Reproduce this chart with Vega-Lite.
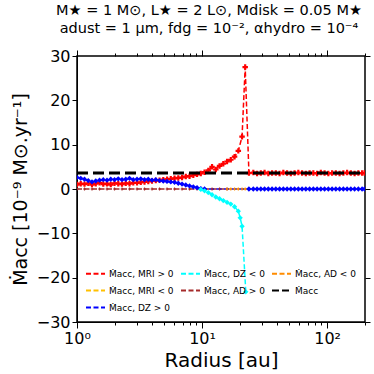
{
  "$schema": "https://vega.github.io/schema/vega-lite/v6.json",
  "autosize": {"type": "none"},
  "width": 288,
  "height": 266,
  "padding": {"left": 77, "top": 56, "right": 9, "bottom": 52},
  "background": "white",
  "title": {
    "text": ["M★ = 1 M⊙, L★ = 2 L⊙, Mdisk = 0.05 M★", "adust = 1 μm, fdg = 10⁻², αhydro = 10⁻⁴"],
    "fontSize": 14.5, "font": "DejaVu Sans", "fontWeight": "normal", "offset": 12, "lineHeight": 18, "anchor": "middle", "frame": "group", "dx": -12, "color": "black"
  },
  "config": {
    "font": "DejaVu Sans",
    "view": {"stroke": "black", "strokeWidth": 1.5},
    "axis": {"domainColor": "black", "tickColor": "black", "labelColor": "black", "titleColor": "black", "grid": false, "labelFont": "DejaVu Sans", "titleFont": "DejaVu Sans", "titleFontWeight": "normal"},
    "legend": {"labelFont": "DejaVu Sans", "labelColor": "black"}
  },
  "data": {"values": [
    {"r": 1, "v": 1.0, "s": "g"},
    {"r": 1.0715, "v": 1.2, "s": "g"},
    {"r": 1.1482, "v": 1.1, "s": "g"},
    {"r": 1.2303, "v": 1.3, "s": "g"},
    {"r": 1.3183, "v": 1.0, "s": "g"},
    {"r": 1.4125, "v": 1.2, "s": "g"},
    {"r": 1.5136, "v": 1.4, "s": "g"},
    {"r": 1.6218, "v": 1.1, "s": "g"},
    {"r": 1.7378, "v": 1.2, "s": "g"},
    {"r": 1.8621, "v": 1.0, "s": "g"},
    {"r": 1.9953, "v": 1.3, "s": "g"},
    {"r": 2.138, "v": 1.2, "s": "g"},
    {"r": 2.2909, "v": 1.1, "s": "g"},
    {"r": 2.4547, "v": 1.3, "s": "g"},
    {"r": 2.6303, "v": 1.2, "s": "g"},
    {"r": 2.8184, "v": 1.4, "s": "g"},
    {"r": 3.02, "v": 1.4, "s": "g"},
    {"r": 3.2359, "v": 1.5, "s": "g"},
    {"r": 3.4674, "v": 1.6, "s": "g"},
    {"r": 3.7154, "v": 1.7, "s": "g"},
    {"r": 3.9811, "v": 1.8, "s": "g"},
    {"r": 4.2658, "v": 1.9, "s": "g"},
    {"r": 4.5709, "v": 2.0, "s": "g"},
    {"r": 4.8978, "v": 2.1, "s": "g"},
    {"r": 5.2481, "v": 2.2, "s": "g"},
    {"r": 5.6234, "v": 2.3, "s": "g"},
    {"r": 6.0256, "v": 2.4, "s": "g"},
    {"r": 6.4565, "v": 2.5, "s": "g"},
    {"r": 6.9183, "v": 2.6, "s": "g"},
    {"r": 7.4131, "v": 2.8, "s": "g"},
    {"r": 7.9433, "v": 2.9, "s": "g"},
    {"r": 8.5114, "v": 3.1, "s": "g"},
    {"r": 9.1201, "v": 3.3, "s": "g"},
    {"r": 9.7724, "v": 3.5, "s": "g"},
    {"r": 10.4713, "v": 3.8, "s": "g"},
    {"r": 11.2202, "v": 4.2, "s": "g"},
    {"r": 12.0226, "v": 5.0, "s": "g"},
    {"r": 12.8825, "v": 4.4, "s": "g"},
    {"r": 13.8038, "v": 5.2, "s": "g"},
    {"r": 14.7911, "v": 5.7, "s": "g"},
    {"r": 15.8489, "v": 6.2, "s": "g"},
    {"r": 16.9824, "v": 6.6, "s": "g"},
    {"r": 18.197, "v": 7.3, "s": "g"},
    {"r": 19.4984, "v": 8.6, "s": "g"},
    {"r": 20.893, "v": 11.8, "s": "g"},
    {"r": 22.131, "v": 27.5, "s": "g"},
    {"r": 23.714, "v": 3.6, "s": "g"},
    {"r": 25.704, "v": 3.7, "s": "g"},
    {"r": 27.542, "v": 3.5, "s": "g"},
    {"r": 29.512, "v": 3.6, "s": "g"},
    {"r": 31.623, "v": 3.7, "s": "g"},
    {"r": 33.884, "v": 3.5, "s": "g"},
    {"r": 36.308, "v": 3.6, "s": "g"},
    {"r": 38.905, "v": 3.6, "s": "g"},
    {"r": 41.687, "v": 3.5, "s": "g"},
    {"r": 44.668, "v": 3.7, "s": "g"},
    {"r": 47.863, "v": 3.6, "s": "g"},
    {"r": 51.286, "v": 3.5, "s": "g"},
    {"r": 54.954, "v": 3.6, "s": "g"},
    {"r": 58.884, "v": 3.7, "s": "g"},
    {"r": 63.096, "v": 3.6, "s": "g"},
    {"r": 67.608, "v": 3.5, "s": "g"},
    {"r": 72.444, "v": 3.6, "s": "g"},
    {"r": 77.625, "v": 3.6, "s": "g"},
    {"r": 83.176, "v": 3.5, "s": "g"},
    {"r": 89.125, "v": 3.7, "s": "g"},
    {"r": 95.499, "v": 3.6, "s": "g"},
    {"r": 102.33, "v": 3.5, "s": "g"},
    {"r": 109.65, "v": 3.6, "s": "g"},
    {"r": 117.49, "v": 3.6, "s": "g"},
    {"r": 125.89, "v": 3.5, "s": "g"},
    {"r": 134.9, "v": 3.6, "s": "g"},
    {"r": 144.54, "v": 3.7, "s": "g"},
    {"r": 154.88, "v": 3.6, "s": "g"},
    {"r": 165.96, "v": 3.5, "s": "g"},
    {"r": 177.83, "v": 3.6, "s": "g"},
    {"r": 190.55, "v": 3.6, "s": "g"},
    {"r": 199.53, "v": 3.6, "s": "g"},

    {"r": 1, "v": 0, "s": "c"},
    {"r": 1.1482, "v": 0, "s": "c"},
    {"r": 1.3183, "v": 0, "s": "c"},
    {"r": 1.5136, "v": 0, "s": "c"},
    {"r": 1.7378, "v": 0, "s": "c"},
    {"r": 1.9953, "v": 0, "s": "c"},
    {"r": 2.2909, "v": 0, "s": "c"},
    {"r": 2.6303, "v": 0, "s": "c"},
    {"r": 3.02, "v": 0, "s": "c"},
    {"r": 3.4674, "v": 0, "s": "c"},
    {"r": 3.9811, "v": 0, "s": "c"},
    {"r": 4.5709, "v": 0, "s": "c"},
    {"r": 5.2481, "v": 0, "s": "c"},
    {"r": 6.0256, "v": 0, "s": "c"},
    {"r": 6.9183, "v": 0, "s": "c"},
    {"r": 7.9433, "v": 0, "s": "c"},
    {"r": 9.1201, "v": 0, "s": "c"},
    {"r": 10.4713, "v": 0, "s": "c"},
    {"r": 12.0226, "v": 0, "s": "c"},
    {"r": 13.8038, "v": 0, "s": "c"},
    {"r": 15.8489, "v": 0, "s": "c"},

    {"r": 15.8489, "v": 0, "s": "e"},
    {"r": 16.9824, "v": 0, "s": "e"},
    {"r": 18.197, "v": 0, "s": "e"},
    {"r": 19.4984, "v": 0, "s": "e"},
    {"r": 20.893, "v": 0, "s": "e"},
    {"r": 22.131, "v": 0, "s": "e"},
    {"r": 23.714, "v": 0, "s": "e"},

    {"r": 1, "v": 2.6, "s": "a"},
    {"r": 1.0715, "v": 2.4, "s": "a"},
    {"r": 1.1482, "v": 2.2, "s": "a"},
    {"r": 1.2303, "v": 1.9, "s": "a"},
    {"r": 1.3183, "v": 1.6, "s": "a"},
    {"r": 1.4125, "v": 1.8, "s": "a"},
    {"r": 1.5136, "v": 2.0, "s": "a"},
    {"r": 1.6218, "v": 2.1, "s": "a"},
    {"r": 1.7378, "v": 2.0, "s": "a"},
    {"r": 1.8621, "v": 2.2, "s": "a"},
    {"r": 1.9953, "v": 2.1, "s": "a"},
    {"r": 2.138, "v": 2.3, "s": "a"},
    {"r": 2.2909, "v": 2.1, "s": "a"},
    {"r": 2.4547, "v": 2.2, "s": "a"},
    {"r": 2.6303, "v": 2.4, "s": "a"},
    {"r": 2.8184, "v": 2.1, "s": "a"},
    {"r": 3.02, "v": 2.2, "s": "a"},
    {"r": 3.2359, "v": 2.3, "s": "a"},
    {"r": 3.4674, "v": 2.1, "s": "a"},
    {"r": 3.7154, "v": 2.2, "s": "a"},
    {"r": 3.9811, "v": 2.0, "s": "a"},
    {"r": 4.2658, "v": 2.1, "s": "a"},
    {"r": 4.5709, "v": 1.9, "s": "a"},
    {"r": 4.8978, "v": 1.8, "s": "a"},
    {"r": 5.2481, "v": 1.7, "s": "a"},
    {"r": 5.6234, "v": 1.6, "s": "a"},
    {"r": 6.0256, "v": 1.5, "s": "a"},
    {"r": 6.4565, "v": 1.3, "s": "a"},
    {"r": 6.9183, "v": 1.1, "s": "a"},
    {"r": 7.4131, "v": 0.9, "s": "a"},
    {"r": 7.9433, "v": 0.7, "s": "a"},
    {"r": 8.5114, "v": 0.5, "s": "a"},
    {"r": 9.1201, "v": 0.3, "s": "a"},
    {"r": 9.7724, "v": 0.1, "s": "a"},
    {"r": 10.4713, "v": 0.0, "s": "a"},
    {"r": 23.714, "v": 0, "s": "a"},
    {"r": 25.704, "v": 0, "s": "a"},
    {"r": 27.542, "v": 0, "s": "a"},
    {"r": 29.512, "v": 0, "s": "a"},
    {"r": 31.623, "v": 0, "s": "a"},
    {"r": 33.884, "v": 0, "s": "a"},
    {"r": 36.308, "v": 0, "s": "a"},
    {"r": 38.905, "v": 0, "s": "a"},
    {"r": 41.687, "v": 0, "s": "a"},
    {"r": 44.668, "v": 0, "s": "a"},
    {"r": 47.863, "v": 0, "s": "a"},
    {"r": 51.286, "v": 0, "s": "a"},
    {"r": 54.954, "v": 0, "s": "a"},
    {"r": 58.884, "v": 0, "s": "a"},
    {"r": 63.096, "v": 0, "s": "a"},
    {"r": 67.608, "v": 0, "s": "a"},
    {"r": 72.444, "v": 0, "s": "a"},
    {"r": 77.625, "v": 0, "s": "a"},
    {"r": 83.176, "v": 0, "s": "a"},
    {"r": 89.125, "v": 0, "s": "a"},
    {"r": 95.499, "v": 0, "s": "a"},
    {"r": 102.33, "v": 0, "s": "a"},
    {"r": 109.65, "v": 0, "s": "a"},
    {"r": 117.49, "v": 0, "s": "a"},
    {"r": 125.89, "v": 0, "s": "a"},
    {"r": 134.9, "v": 0, "s": "a"},
    {"r": 144.54, "v": 0, "s": "a"},
    {"r": 154.88, "v": 0, "s": "a"},
    {"r": 165.96, "v": 0, "s": "a"},
    {"r": 177.83, "v": 0, "s": "a"},
    {"r": 190.55, "v": 0, "s": "a"},
    {"r": 199.53, "v": 0, "s": "a"},

    {"r": 9.7724, "v": -0.1, "s": "f"},
    {"r": 10.4713, "v": -0.4, "s": "f"},
    {"r": 11.2202, "v": -0.8, "s": "f"},
    {"r": 12.0226, "v": -1.3, "s": "f"},
    {"r": 12.8825, "v": -1.8, "s": "f"},
    {"r": 13.8038, "v": -2.2, "s": "f"},
    {"r": 14.7911, "v": -2.6, "s": "f"},
    {"r": 15.8489, "v": -3.0, "s": "f"},
    {"r": 16.9824, "v": -3.4, "s": "f"},
    {"r": 18.197, "v": -4.0, "s": "f"},
    {"r": 19.4984, "v": -5.0, "s": "f"},
    {"r": 20.18, "v": -6.5, "s": "f"},
    {"r": 20.893, "v": -8.4, "s": "f"},
    {"r": 22.387, "v": -23.2, "s": "f"},

    {"r": 1, "v": 3.6, "s": "b"},
    {"r": 199.53, "v": 3.6, "s": "b"}
  ]},
  "layer": [
    {
      "transform": [{"filter": "datum.s != 'b'"}],
      "mark": {"type": "line", "strokeWidth": 1.5, "clip": true},
      "encoding": {
        "x": {"field": "r", "type": "quantitative",
          "scale": {"type": "log", "domain": [1, 201], "nice": false},
          "axis": {"values": [1,2,3,4,5,6,7,8,9,10,20,30,40,50,60,70,80,90,100,200],
            "labelExpr": "datum.value == 1 ? '10⁰' : datum.value == 10 ? '10¹' : datum.value == 100 ? '10²' : ''",
            "tickSize": {"condition": {"test": "datum.value == 1 || datum.value == 10 || datum.value == 100", "value": 6}, "value": 3},
            "labelFlush": false, "labelOverlap": false, "labelFontSize": 16, "labelPadding": 2,
            "title": "Radius [au]", "titleFontSize": 20, "titlePadding": 4}},
        "y": {"field": "v", "type": "quantitative",
          "scale": {"domain": [-30, 30], "nice": false},
          "axis": {"values": [-30,-20,-10,0,10,20,30], "tickSize": 5, "labelFontSize": 16, "labelPadding": 2,
            "title": "Ṁacc [10⁻⁹ M⊙.yr⁻¹]", "titleFontSize": 19, "titlePadding": 6}},
        "color": {"field": "s", "type": "nominal", "sort": ["g", "f", "e", "d", "c", "b", "a"],
          "scale": {"domain": ["g", "f", "e", "d", "c", "b", "a"],
            "range": ["#ff0000", "#00ffff", "#ff8c00", "#ffc000", "#a52a2a", "#000000", "#0000ff"]},
          "legend": {"orient": "none", "direction": "horizontal", "legendX": 8, "legendY": 207, "columns": 3, "title": null,
            "labelExpr": "datum.label == 'g' ? 'Ṁacc, MRI > 0' : datum.label == 'f' ? 'Ṁacc, DZ < 0' : datum.label == 'e' ? 'Ṁacc, AD < 0' : datum.label == 'd' ? 'Ṁacc, MRI < 0' : datum.label == 'c' ? 'Ṁacc, AD > 0' : datum.label == 'b' ? 'Ṁacc' : 'Ṁacc, DZ > 0'",
            "labelFontSize": 9, "labelOffset": 3, "symbolType": "stroke", "symbolSize": 361, "symbolStrokeWidth": 1.8,
            "columnPadding": 3, "rowPadding": 1, "padding": 0}},
        "strokeDash": {"field": "s", "type": "nominal", "legend": null,
          "scale": {"domain": ["g", "f", "e", "d", "c", "b", "a"],
            "range": [[5, 2.5], [5, 2.5], [5, 2.5], [5, 2.5], [5, 2.5], [7, 3], [5, 2.5]]}}
      }
    },
    {
      "transform": [{"filter": "datum.s == 'c' || datum.s == 'e'"}],
      "mark": {"type": "point", "shape": "cross", "filled": true, "opacity": 1, "size": 8, "clip": true},
      "encoding": {
        "x": {"field": "r", "type": "quantitative", "axis": null},
        "y": {"field": "v", "type": "quantitative", "axis": null},
        "color": {"field": "s", "type": "nominal", "legend": null}
      }
    },
    {
      "transform": [{"filter": "datum.s == 'g'"}],
      "mark": {"type": "point", "shape": "cross", "filled": true, "opacity": 1, "size": 30, "clip": true},
      "encoding": {
        "x": {"field": "r", "type": "quantitative", "axis": null},
        "y": {"field": "v", "type": "quantitative", "axis": null},
        "color": {"field": "s", "type": "nominal", "legend": null}
      }
    },
    {
      "transform": [{"filter": "datum.s == 'a' || datum.s == 'f'"}],
      "mark": {"type": "point", "shape": "diamond", "filled": true, "opacity": 1, "size": 28, "clip": true},
      "encoding": {
        "x": {"field": "r", "type": "quantitative", "axis": null},
        "y": {"field": "v", "type": "quantitative", "axis": null},
        "color": {"field": "s", "type": "nominal", "legend": null}
      }
    },
    {
      "transform": [{"filter": "datum.s == 'b'"}],
      "mark": {"type": "line", "color": "black", "strokeWidth": 3, "strokeDash": [11, 5], "clip": true},
      "encoding": {
        "x": {"field": "r", "type": "quantitative", "axis": null},
        "y": {"field": "v", "type": "quantitative", "axis": null}
      }
    },
    {
      "mark": {"type": "point", "opacity": 0},
      "encoding": {
        "x": {"field": "r", "type": "quantitative",
          "axis": {"orient": "top", "labels": false, "title": null, "domain": false,
            "values": [1,2,3,4,5,6,7,8,9,10,20,30,40,50,60,70,80,90,100,200],
            "tickSize": {"condition": {"test": "datum.value == 1 || datum.value == 10 || datum.value == 100", "value": 6}, "value": 3}}},
        "y": {"field": "v", "type": "quantitative",
          "axis": {"orient": "right", "labels": false, "title": null, "domain": false, "tickSize": 5,
            "values": [-30,-20,-10,0,10,20,30]}}
      }
    }
  ],
  "resolve": {"axis": {"x": "independent", "y": "independent"}}
}
